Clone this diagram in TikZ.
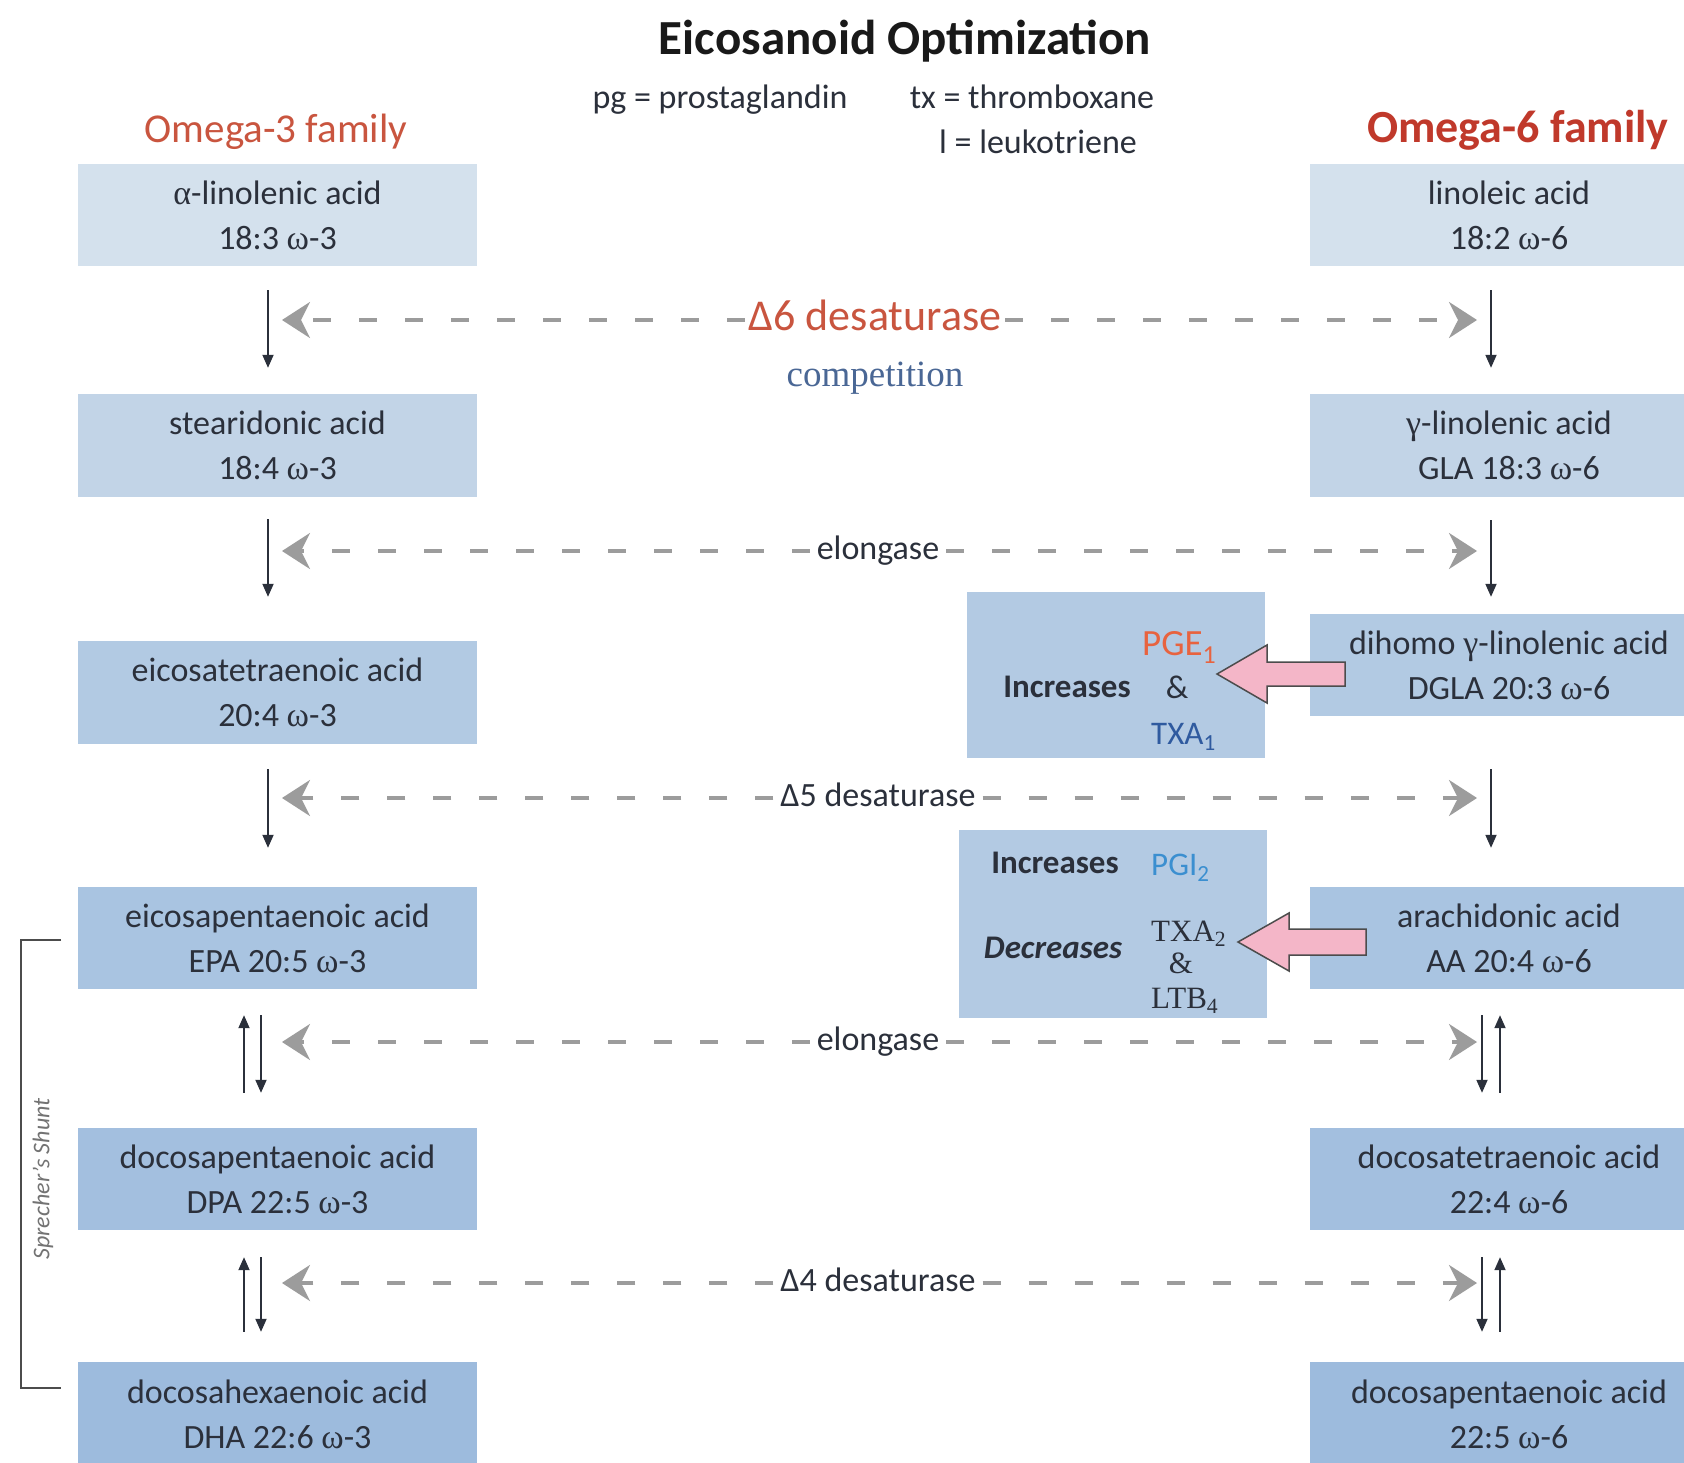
\documentclass[tikz,border=0pt]{standalone}
\usepackage{fontspec}
\setmainfont{Carlito}
\newfontfamily\grk{Liberation Serif}
\usetikzlibrary{arrows.meta,calc}
\definecolor{txt}{HTML}{2B303B}
\definecolor{boxa}{HTML}{D4E1ED}
\definecolor{boxb}{HTML}{C2D4E7}
\definecolor{boxc}{HTML}{B2CAE3}
\definecolor{boxd}{HTML}{A9C4E1}
\definecolor{boxe}{HTML}{A3BFDF}
\definecolor{boxf}{HTML}{9DBBDD}
\definecolor{midbox}{HTML}{B3CAE3}
\definecolor{omred}{HTML}{C9553F}
\definecolor{omredd}{HTML}{C0392B}
\definecolor{dgray}{HTML}{9C9C9C}
\definecolor{compblue}{HTML}{4A6795}
\definecolor{pgeorange}{HTML}{E8633F}
\definecolor{txablue}{HTML}{2F5A9F}
\definecolor{pgiblue}{HTML}{3B8FD0}
\definecolor{pinkfill}{HTML}{F4B6C8}
\newcommand\om{{\grk ω}}
\begin{document}
\begin{tikzpicture}[x=1pt,y=-1pt,
  acid/.style={minimum width=399pt, minimum height=102pt, inner sep=0pt, align=center, text=txt, font=\fontsize{34}{45}\selectfont},
  vert/.style={-{Stealth[length=13pt,width=11pt,inset=0pt]}, line width=1.8pt, draw=txt},
  dasharr/.style={draw=dgray, line width=3.5pt, dash pattern=on 18pt off 28pt, -{Stealth[length=28pt,width=36pt,inset=9pt]}},
  dlabel/.style={text=txt, font=\fontsize{34}{40}\selectfont, inner sep=7pt, text height=16pt, text depth=0pt},
  midtxt/.style={text=txt, inner sep=0pt, font=\fontsize{33}{33}\selectfont},
  pinkarr/.style={fill=pinkfill, draw=black!70, line width=1.5pt, line join=miter}
]
\useasboundingbox (0,0) rectangle (1684,1462);
\fill[white] (0,0) rectangle (1684,1462);

% headings
\node[anchor=base, text=black!90, font=\fontsize{49}{49}\selectfont\bfseries] (title) at (905,54) {Eicosanoid Optimization};
\node[anchor=base, text=txt, font=\fontsize{34}{34}\selectfont] (pg) at (720,108) {pg = prostaglandin};
\node[anchor=base, text=txt, font=\fontsize{34}{34}\selectfont] (tx) at (1032,108) {tx = thromboxane};
\node[anchor=base, text=txt, font=\fontsize{34}{34}\selectfont] (lt) at (1038,153) {l = leukotriene};
\node[anchor=base, text=omred, font=\fontsize{41}{41}\selectfont] (om3) at (276,142) {Omega-3 family};
\node[anchor=base, text=omredd, font=\fontsize{46}{46}\selectfont\bfseries] (om6) at (1518,142) {Omega-6 family};

% left column
\node[acid, fill=boxa] (L1) at (277.5,215) {{\grk α}-linolenic acid\\18:3 \om-3};
\node[acid, fill=boxb, minimum height=103pt] (L2) at (277.5,445.5) {stearidonic acid\\18:4 \om-3};
\node[acid, fill=boxc, minimum height=103pt] (L3) at (277.5,692.5) {eicosatetraenoic acid\\20:4 \om-3};
\node[acid, fill=boxd] (L4) at (277.5,938) {eicosapentaenoic acid\\EPA 20:5 \om-3};
\node[acid, fill=boxe] (L5) at (277.5,1179) {docosapentaenoic acid\\DPA 22:5 \om-3};
\node[acid, fill=boxf, minimum height=104pt] (L6) at (277.5,1414) {docosahexaenoic acid\\DHA 22:6 \om-3};

% right column
\node[acid, fill=boxa, minimum width=398pt] (R1) at (1509,215) {linoleic acid\\18:2 \om-6};
\node[acid, fill=boxb, minimum width=398pt, minimum height=103pt] (R2) at (1509,445.5) {{\grk γ}-linolenic acid\\GLA 18:3 \om-6};
\node[acid, fill=boxc, minimum width=398pt] (R3) at (1509,665) {dihomo {\grk γ}-linolenic acid\\DGLA 20:3 \om-6};
\node[acid, fill=boxd, minimum width=398pt] (R4) at (1509,938) {arachidonic acid\\AA 20:4 \om-6};
\node[acid, fill=boxe, minimum width=398pt] (R5) at (1509,1179) {docosatetraenoic acid\\22:4 \om-6};
\node[acid, fill=boxf, minimum width=398pt, minimum height=104pt] (R6) at (1509,1414) {docosapentaenoic acid\\22:5 \om-6};

% middle boxes
\node[fill=midbox, minimum width=298pt, minimum height=166pt, inner sep=0pt] (M1) at (1115.5,674.5) {};
\node[fill=midbox, minimum width=308pt, minimum height=188pt, inner sep=0pt] (M2) at (1112.5,924) {};

\node[midtxt, font=\fontsize{33}{33}\selectfont\bfseries] (inc1) at (1067,687) {Increases};
\node[midtxt] (amp1) at (1177,687) {\&};
\node[midtxt, anchor=base west, text=pgeorange, font=\fontsize{37}{37}\selectfont] (pge) at (1142,655) {PGE\textsubscript{1}};
\node[midtxt, anchor=base west, text=txablue] (txa1) at (1151,744) {TXA\textsubscript{1}};

\node[midtxt, font=\fontsize{33}{33}\selectfont\bfseries] (inc2) at (1055,863) {Increases};
\node[midtxt, anchor=base west, text=pgiblue] (pgi) at (1151,875) {PGI\textsubscript{2}};
\node[midtxt, font=\fontsize{33}{33}\selectfont\bfseries\itshape] (dec) at (1053,948) {Decreases};
\node[midtxt, anchor=base west, font=\grk\fontsize{31}{31}\selectfont] (txa2) at (1151,941) {TXA\textsubscript{2}};
\node[midtxt, font=\grk\fontsize{31}{31}\selectfont] (amp2) at (1181,963) {\&};
\node[midtxt, anchor=base west, font=\grk\fontsize{31}{31}\selectfont] (ltb) at (1151,1008) {LTB\textsubscript{4}};

% pink block arrows
\coordinate (p1tip) at (1217,674);
\coordinate (p2tip) at (1238,942);
\draw[pinkarr] (p1tip) -- ++(50,-29) -- ++(0,17) -- ++(78,0) -- ++(0,24) -- ++(-78,0) -- ++(0,17) -- cycle;
\draw[pinkarr] (p2tip) -- ++(51,-29) -- ++(0,16) -- ++(77,0) -- ++(0,26) -- ++(-77,0) -- ++(0,16) -- cycle;

% vertical pathway arrows, left
\draw[vert, shorten <=24pt, shorten >=26pt] ([xshift=-9.5pt]L1.south) -- ([xshift=-9.5pt]L2.north);
\draw[vert, shorten <=22pt, shorten >=44pt] ([xshift=-9.5pt]L2.south) -- ([xshift=-9.5pt]L3.north);
\draw[vert, shorten <=25pt, shorten >=39pt] ([xshift=-9.5pt]L3.south) -- ([xshift=-9.5pt]L4.north);
\draw[vert, shorten <=26pt, shorten >=35pt] ([xshift=-16.5pt]L4.south) -- ([xshift=-16.5pt]L5.north);
\draw[vert, shorten <=35pt, shorten >=26pt] ([xshift=-33.5pt]L5.north) -- ([xshift=-33.5pt]L4.south);
\draw[vert, shorten <=27pt, shorten >=30pt] ([xshift=-16.5pt]L5.south) -- ([xshift=-16.5pt]L6.north);
\draw[vert, shorten <=30pt, shorten >=27pt] ([xshift=-33.5pt]L6.north) -- ([xshift=-33.5pt]L5.south);

% vertical pathway arrows, right
\draw[vert, shorten <=24pt, shorten >=26pt] ([xshift=-18pt]R1.south) -- ([xshift=-18pt]R2.north);
\draw[vert, shorten <=23pt, shorten >=17pt] ([xshift=-18pt]R2.south) -- ([xshift=-18pt]R3.north);
\draw[vert, shorten <=53pt, shorten >=39pt] ([xshift=-18pt]R3.south) -- ([xshift=-18pt]R4.north);
\draw[vert, shorten <=26pt, shorten >=35pt] ([xshift=-27pt]R4.south) -- ([xshift=-27pt]R5.north);
\draw[vert, shorten <=35pt, shorten >=26pt] ([xshift=-9pt]R5.north) -- ([xshift=-9pt]R4.south);
\draw[vert, shorten <=27pt, shorten >=30pt] ([xshift=-27pt]R5.south) -- ([xshift=-27pt]R6.north);
\draw[vert, shorten <=30pt, shorten >=27pt] ([xshift=-9pt]R6.north) -- ([xshift=-9pt]R5.south);

% enzyme rows (dashed competition arrows)
\coordinate (dl1) at (282,320);  \coordinate (dr1) at (1477,320);
\coordinate (dl2) at (282,551);  \coordinate (dr2) at (1477,551);
\coordinate (dl3) at (282,798);  \coordinate (dr3) at (1477,798);
\coordinate (dl4) at (282,1042); \coordinate (dr4) at (1477,1042);
\coordinate (dl5) at (282,1283); \coordinate (dr5) at (1477,1283);

\node[dlabel, text=omred, font=\fontsize{44}{44}\selectfont, text height=20pt, inner sep=4pt] (d1) at (875,320) {Δ6 desaturase};
\node[dlabel] (d2) at (878,551) {elongase};
\node[dlabel] (d3) at (878,798) {Δ5 desaturase};
\node[dlabel] (d4) at (878,1042) {elongase};
\node[dlabel] (d5) at (878,1283) {Δ4 desaturase};
\node[anchor=base, text=compblue, font=\grk\fontsize{37}{37}\selectfont] (comp) at (875,386) {competition};

\foreach \k in {1,...,5}{
  \draw[dasharr] (d\k.west) -- (dl\k);
  \draw[dasharr] (d\k.east) -- (dr\k);
}

% Sprecher's shunt bracket
\coordinate (bt) at (61,940);
\coordinate (bb) at (61,1388);
\draw[line width=1.8pt, draw=black!70] (bt) -- (21,940) -- (21,1388) -- (bb);
\node[rotate=90, text=black!55, font=\fontsize{24}{24}\selectfont\itshape] (shunt) at (43,1179) {Sprecher’s Shunt};
\end{tikzpicture}
\end{document}
